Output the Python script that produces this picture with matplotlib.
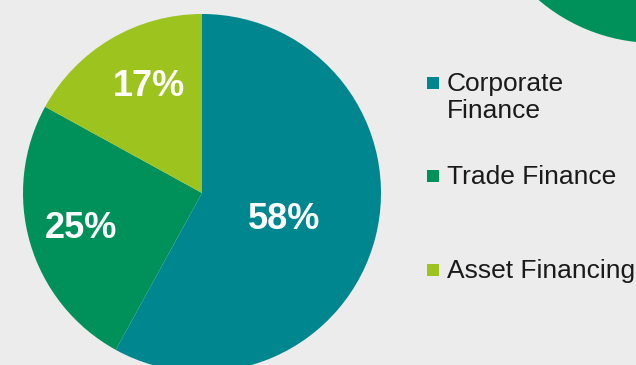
import numpy as np
import matplotlib
matplotlib.use("Agg")
import matplotlib.pyplot as plt
from matplotlib.patches import Circle, Rectangle

plt.rcParams['font.family'] = ['Liberation Sans', 'DejaVu Sans']

# portfolio split
segments = ['Corporate\nFinance', 'Trade Finance', 'Asset Financing']
shares = [58, 25, 17]
colors = ['#00868F', '#00915A', '#9DC31E']

W, H = 636, 365
fig = plt.figure(figsize=(W / 100, H / 100), dpi=100)
fig.patch.set_facecolor('#ECECEC')
ax = fig.add_axes([0, 0, 1, 1])
ax.set_facecolor('#ECECEC')

# decorative circle poking in at the top right
ax.add_patch(Circle((655, H + 136), 179, color='#00915A', lw=0))

cx, cy, r = 202, H - 193, 179
wedges, _, pcts = ax.pie(shares, colors=colors, startangle=90, counterclock=False,
                         center=(cx, cy), radius=r, autopct='%.0f%%',
                         wedgeprops=dict(linewidth=0), frame=True,
                         textprops=dict(color='white', fontsize=26, fontweight='bold'))

# put each percentage inside its slice
label_dist = [0.48, 0.70, 0.68]
label_turn = [-1.7, -1.3, -4.6]
for w, t, d, turn in zip(wedges, pcts, label_dist, label_turn):
    a = np.deg2rad((w.theta1 + w.theta2) / 2 + turn)
    t.set_position((cx + d * r * np.cos(a), cy + d * r * np.sin(a) - 3))

# legend (baseline of the first line of each entry)
line_h = 27
legend_y = [H - 91, H - 184, H - 278]
for lab, col, y in zip(segments, colors, legend_y):
    ax.add_patch(Rectangle((427, y + 2), 12, 12, color=col, lw=0))
    n = lab.count('\n')
    ax.text(447, y - n * line_h, lab, fontsize=19, color='#1a1a1a', va='baseline',
            ha='left', linespacing=1.16)

ax.set_xlim(0, W)
ax.set_ylim(0, H)
ax.set_aspect('equal')
ax.axis('off')

fig.savefig('out.png', dpi=100, facecolor=fig.get_facecolor())
